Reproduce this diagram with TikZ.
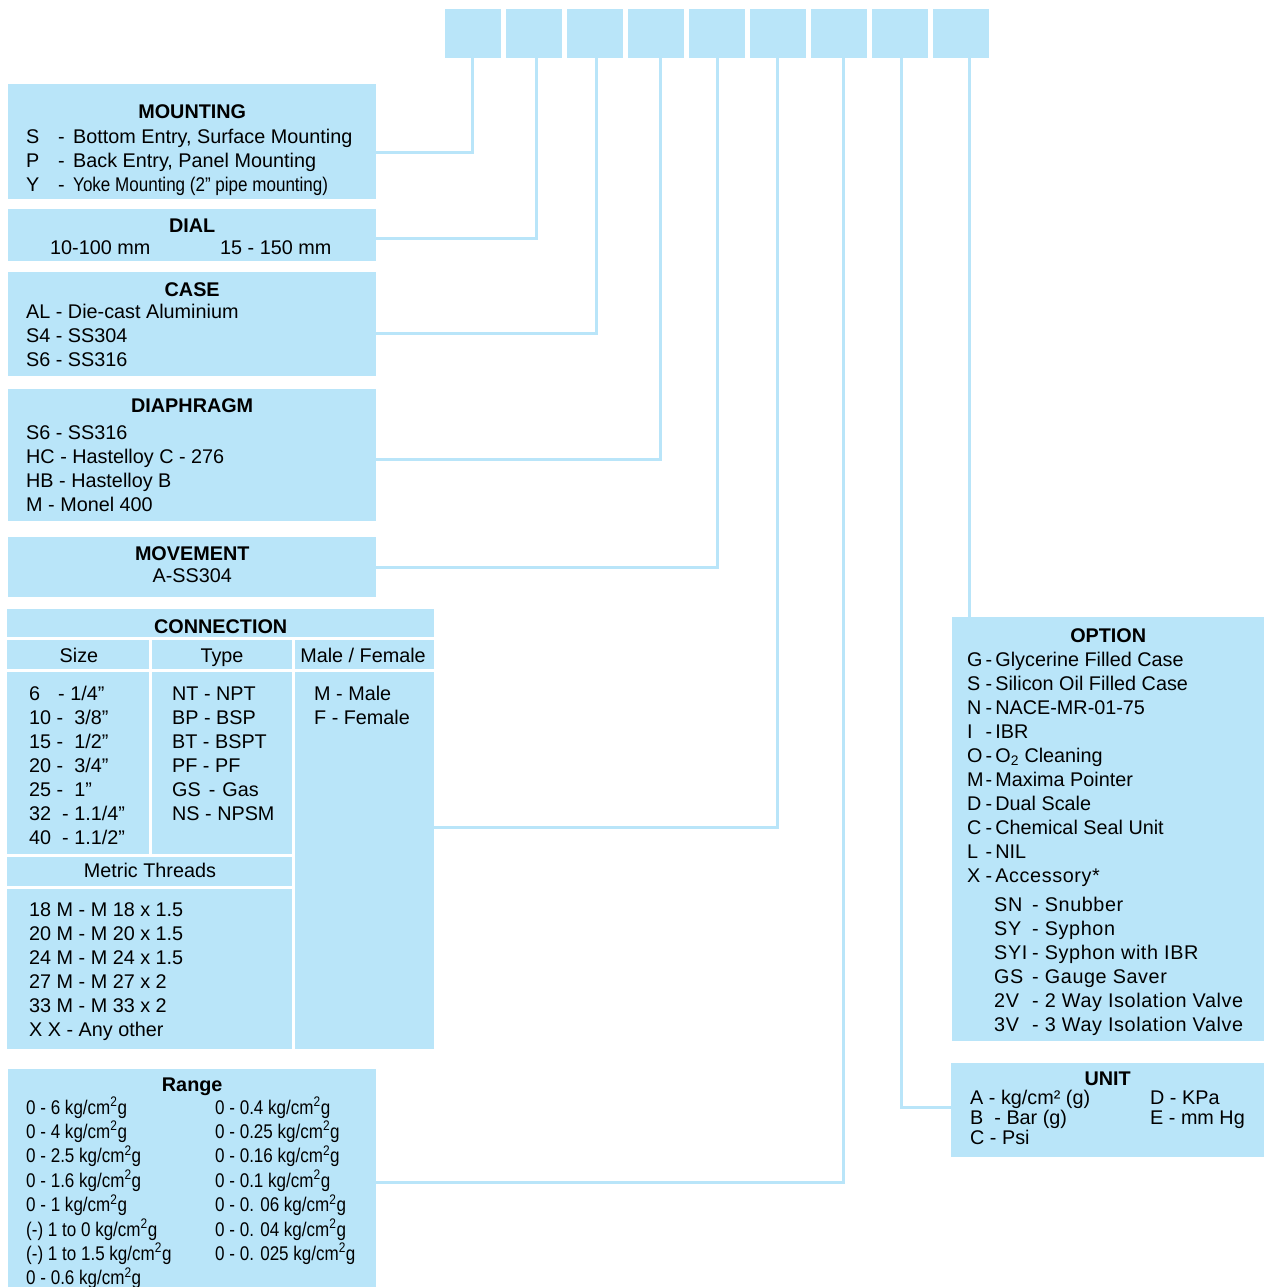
\documentclass[tikz,border=0pt]{standalone}
\usepackage{fontspec}
\setmainfont{Liberation Sans}
\newfontfamily\narrowfont{Liberation Sans}[FakeStretch=0.86]
\newfontfamily\widefont{Liberation Sans}[LetterSpace=3]
\usetikzlibrary{calc}

\definecolor{panelblue}{HTML}{B9E5F9}
\newcommand{\bodysize}{\fontsize{19.8}{24}\selectfont}
\newcommand{\cmsq}{cm\textsuperscript{2}}

\begin{document}
\begin{tikzpicture}[x={(1pt,0)},y={(0,-1pt)},
    panel/.style={fill=panelblue,draw=none,anchor=north west,inner sep=0pt},
    slot/.style={panel,minimum width=56,minimum height=49},
    lead/.style={draw=panelblue,line width=3pt},
    cellrule/.style={draw=white,line width=3pt},
    head/.style={font=\bodysize\bfseries,anchor=base,inner sep=0pt},
    plain/.style={font=\bodysize,anchor=base,inner sep=0pt},
    item/.style={font=\bodysize,anchor=base west,inner sep=0pt}]

    \useasboundingbox (0,0) rectangle (1264,1287);

    %%% Code slots %%%

    \foreach \i in {1,...,9}
        \node[slot] (b\i) at ({445+61*(\i-1)},9) {};

    %%% Mounting, dial, case %%%

    \node[panel,minimum width=368,minimum height=115] (mount) at (8,84) {};
    \node[head] (mounthead) at ($(mount.north)+(0,35)$) {MOUNTING};
    \node[item] (mountlist) at ($(mount.north west)+(18,59)$)
        {\begin{tabular}[t]{@{}l@{}}
            \makebox[32pt][l]{S}\makebox[15pt][l]{-}Bottom Entry, Surface Mounting\\
            \makebox[32pt][l]{P}\makebox[15pt][l]{-}Back Entry, Panel Mounting\\
            \makebox[32pt][l]{Y}\makebox[15pt][l]{-}{\narrowfont Yoke Mounting (2” pipe mounting)}
        \end{tabular}};

    \node[panel,minimum width=368,minimum height=52] (dial) at (8,209) {};
    \node[head] (dialhead) at ($(dial.north)+(0,23)$) {DIAL};
    \node[item] (diallist) at ($(dial.north west)+(42,45)$)
        {\makebox[170pt][l]{10-100 mm}15 - 150 mm};

    \node[panel,minimum width=368,minimum height=104] (case) at (8,272) {};
    \node[head] (casehead) at ($(case.north)+(0,24)$) {CASE};
    \node[item] (caselist) at ($(case.north west)+(18,46)$)
        {\begin{tabular}[t]{@{}l@{}}
            AL - Die-cast Aluminium\\
            S4 - SS304\\
            S6 - SS316
        \end{tabular}};

    %%% Diaphragm, movement %%%

    \node[panel,minimum width=368,minimum height=132] (diaph) at (8,389) {};
    \node[head] (diaphhead) at ($(diaph.north)+(0,23)$) {DIAPHRAGM};
    \node[item] (diaphlist) at ($(diaph.north west)+(18,50)$)
        {\begin{tabular}[t]{@{}l@{}}
            S6 - SS316\\
            HC - Hastelloy C - 276\\
            HB - Hastelloy B\\
            M - Monel 400
        \end{tabular}};

    \node[panel,minimum width=368,minimum height=60] (move) at (8,537) {};
    \node[head] (movehead) at ($(move.north)+(0,23)$) {MOVEMENT};
    \node[plain] (movelist) at ($(move.north)+(0,45)$) {A-SS304};

    %%% Connection %%%

    \node[panel,minimum width=427,minimum height=440] (conn) at (7,609) {};
    \draw[cellrule] ($(conn.north west)+(0,29)$) -- ($(conn.north east)+(0,29)$);
    \draw[cellrule] ($(conn.north west)+(0,61)$) -- ($(conn.north east)+(0,61)$);
    \draw[cellrule] ($(conn.north west)+(143,29)$) -- ($(conn.north west)+(143,246)$);
    \draw[cellrule] ($(conn.north west)+(286,29)$) -- ($(conn.south west)+(286,0)$);
    \draw[cellrule] ($(conn.north west)+(0,246)$) -- ($(conn.north west)+(286,246)$);
    \draw[cellrule] ($(conn.north west)+(0,278)$) -- ($(conn.north west)+(286,278)$);

    \node[head] (connhead) at ($(conn.north)+(0,24)$) {CONNECTION};
    \node[plain] (sizehead) at ($(conn.north west)+(72,53)$) {Size};
    \node[plain] (typehead) at ($(conn.north west)+(215,53)$) {Type};
    \node[plain] (mfhead) at ($(conn.north west)+(356,53)$) {Male / Female};

    \node[item] (sizelist) at ($(conn.north west)+(22,91)$)
        {\begin{tabular}[t]{@{}l@{}}
            \makebox[29pt][l]{6}- 1/4”\\
            10 -\ \ 3/8”\\
            15 -\ \ 1/2”\\
            20 -\ \ 3/4”\\
            25 -\ \ 1”\\
            32 \ - 1.1/4”\\
            40 \ - 1.1/2”
        \end{tabular}};
    \node[item] (typelist) at ($(conn.north west)+(165,91)$)
        {\begin{tabular}[t]{@{}l@{}}
            NT - NPT\\
            BP - BSP\\
            BT - BSPT\\
            PF - PF\\
            GS\hspace{8pt}-\hspace{7pt}Gas\\
            NS - NPSM
        \end{tabular}};
    \node[item] (mflist) at ($(conn.north west)+(307,91)$)
        {\begin{tabular}[t]{@{}l@{}}
            M - Male\\
            F - Female
        \end{tabular}};

    \node[plain] (metrichead) at ($(conn.north west)+(143,268)$) {Metric Threads};
    \node[item] (metriclist) at ($(conn.north west)+(22,307)$)
        {\begin{tabular}[t]{@{}l@{}}
            18 M - M 18 x 1.5\\
            20 M - M 20 x 1.5\\
            24 M - M 24 x 1.5\\
            27 M - M 27 x 2\\
            33 M - M 33 x 2\\
            X X - Any other
        \end{tabular}};

    %%% Range %%%

    \node[panel,minimum width=368,minimum height=218] (range) at (8,1069) {};
    \node[head] (rangehead) at ($(range.north)+(0,22)$) {Range};
    \node[item] (rangeleft) at ($(range.north west)+(18,45)$)
        {\narrowfont\begin{tabular}[t]{@{}l@{}}
            0 - 6 kg/\cmsq g\\
            0 - 4 kg/\cmsq g\\
            0 - 2.5 kg/\cmsq g\\
            0 - 1.6 kg/\cmsq g\\
            0 - 1 kg/\cmsq g\\
            (-) 1 to 0 kg/\cmsq g\\
            (-) 1 to 1.5 kg/\cmsq g\\
            0 - 0.6 kg/\cmsq g
        \end{tabular}};
    \node[item] (rangeright) at ($(range.north west)+(207,45)$)
        {\narrowfont\begin{tabular}[t]{@{}l@{}}
            0 - 0.4 kg/\cmsq g\\
            0 - 0.25 kg/\cmsq g\\
            0 - 0.16 kg/\cmsq g\\
            0 - 0.1 kg/\cmsq g\\
            0 - 0. 06 kg/\cmsq g\\
            0 - 0. 04 kg/\cmsq g\\
            0 - 0. 025 kg/\cmsq g
        \end{tabular}};

    %%% Option, unit %%%

    \node[panel,minimum width=312,minimum height=424] (option) at (952,617) {};
    \node[head] (optionhead) at ($(option.north)+(0,25)$) {OPTION};
    \node[item] (optionlist) at ($(option.north west)+(15,49)$)
        {\begin{tabular}[t]{@{}l@{}}
            \makebox[15pt][l]{G}\,-\,Glycerine Filled Case\\
            \makebox[15pt][l]{S}\,-\,Silicon Oil Filled Case\\
            \makebox[15pt][l]{N}\,-\,NACE-MR-01-75\\
            \makebox[15pt][l]{I}\,-\,IBR\\
            \makebox[15pt][l]{O}\,-\,O\textsubscript{2} Cleaning\\
            \makebox[15pt][l]{M}\,-\,Maxima Pointer\\
            \makebox[15pt][l]{D}\,-\,Dual Scale\\
            \makebox[15pt][l]{C}\,-\,Chemical Seal Unit\\
            \makebox[15pt][l]{L}\,-\,NIL\\
            \makebox[15pt][l]{X}\,-\,{\widefont Accessory*}
        \end{tabular}};
    \node[item] (accesslist) at ($(option.north west)+(42,294)$)
        {\widefont\begin{tabular}[t]{@{}l@{}}
            \makebox[38pt][l]{SN}- Snubber\\
            \makebox[38pt][l]{SY}- Syphon\\
            \makebox[38pt][l]{SYI}- Syphon with IBR\\
            \makebox[38pt][l]{GS}- Gauge Saver\\
            \makebox[38pt][l]{2V}- 2 Way Isolation Valve\\
            \makebox[38pt][l]{3V}- 3 Way Isolation Valve
        \end{tabular}};

    \node[panel,minimum width=313,minimum height=94] (unit) at (951,1063) {};
    \node[head] (unithead) at ($(unit.north)+(0,22)$) {UNIT};
    \node[item,font=\fontsize{19.8}{20}\selectfont] (unitleft) at ($(unit.north west)+(19,41)$)
        {\begin{tabular}[t]{@{}l@{}}
            A - kg/cm² (g)\\
            B\ \ - Bar (g)\\
            C - Psi
        \end{tabular}};
    \node[item,font=\fontsize{19.8}{20}\selectfont] (unitright) at ($(unit.north west)+(199,41)$)
        {\begin{tabular}[t]{@{}l@{}}
            D - KPa\\
            E - mm Hg
        \end{tabular}};

    %%% Leads from the slots %%%

    \coordinate (mountin) at ($(mount.north east)+(0,68)$);
    \coordinate (dialin) at ($(dial.north east)+(0,29)$);
    \coordinate (casein) at ($(case.north east)+(0,61)$);
    \coordinate (diaphin) at ($(diaph.north east)+(0,70)$);
    \coordinate (movein) at ($(move.north east)+(0,30)$);
    \coordinate (connin) at ($(conn.north east)+(0,218)$);
    \coordinate (rangein) at ($(range.north east)+(0,113)$);
    \coordinate (unitin) at ($(unit.north west)+(0,44)$);
    \coordinate (optionin) at ($(option.north west)+(17,0)$);

    \draw[lead] ($(b1.south)+(-1,0)$) |- (mountin);
    \draw[lead] ($(b2.south)+(2,0)$) |- (dialin);
    \draw[lead] ($(b3.south)+(1,0)$) |- (casein);
    \draw[lead] ($(b4.south)+(4,0)$) |- (diaphin);
    \draw[lead] (b5.south) |- (movein);
    \draw[lead] ($(b6.south)+(-1,0)$) |- (connin);
    \draw[lead] ($(b7.south)+(4,0)$) |- (rangein);
    \draw[lead] ($(b8.south)+(1,0)$) |- (unitin);
    \draw[lead] ($(b9.south)+(8,0)$) |- (optionin);

\end{tikzpicture}
\end{document}
